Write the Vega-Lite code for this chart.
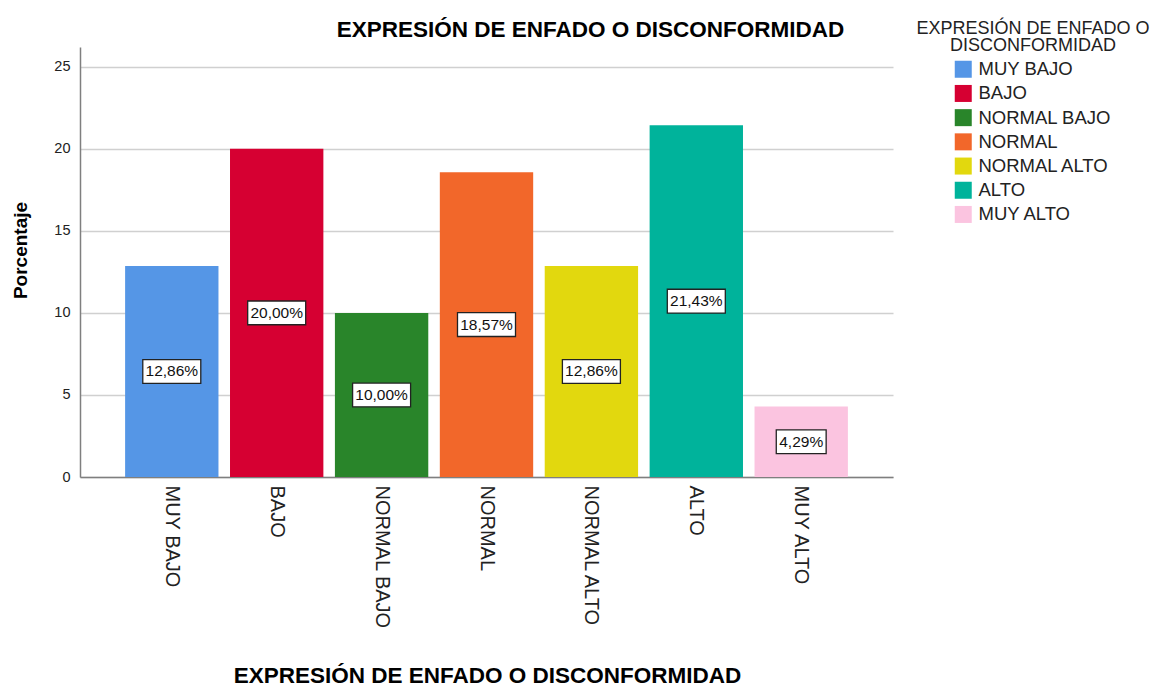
{
  "$schema": "https://vega.github.io/schema/vega-lite/v6.json",
  "width": 813,
  "height": 430,
  "autosize": "none",
  "padding": {"left": 80, "top": 47, "right": 260, "bottom": 209},
  "background": "white",
  "config": {"font": "Liberation Sans", "view": {"stroke": null}},
  "title": {
    "text": "EXPRESIÓN DE ENFADO O DISCONFORMIDAD",
    "fontSize": 22.5,
    "fontWeight": "bold",
    "color": "#000000",
    "anchor": "middle",
    "dx": 104,
    "dy": 50,
    "offset": 11,
    "baseline": "alphabetic"
  },
  "data": {
    "values": [
      {"cat": "MUY BAJO", "pct": 12.86, "label": "12,86%"},
      {"cat": "BAJO", "pct": 20.0, "label": "20,00%"},
      {"cat": "NORMAL BAJO", "pct": 10.0, "label": "10,00%"},
      {"cat": "NORMAL", "pct": 18.57, "label": "18,57%"},
      {"cat": "NORMAL ALTO", "pct": 12.86, "label": "12,86%"},
      {"cat": "ALTO", "pct": 21.43, "label": "21,43%"},
      {"cat": "MUY ALTO", "pct": 4.29, "label": "4,29%"}
    ]
  },
  "encoding": {
    "x": {
      "field": "cat",
      "type": "nominal",
      "sort": ["MUY BAJO", "BAJO", "NORMAL BAJO", "NORMAL", "NORMAL ALTO", "ALTO", "MUY ALTO"],
      "scale": {"paddingInner": 0.11, "paddingOuter": 0.43},
      "axis": {
        "title": "EXPRESIÓN DE ENFADO O DISCONFORMIDAD",
        "titleFontSize": 22.5,
        "titleFontWeight": "bold",
        "titleColor": "#000000",
        "titleX": 407,
        "titleY": 205,
        "titleBaseline": "alphabetic",
        "titleAlign": "center",
        "titleLimit": 800,
        "labelAngle": 90,
        "labelAlign": "left",
        "labelBaseline": "middle",
        "labelFontSize": 20,
        "labelColor": "#222222",
        "labelPadding": 8,
        "ticks": false,
        "domainColor": "#7f7f7f",
        "domainWidth": 1.5,
        "grid": false
      }
    }
  },
  "layer": [
    {
      "mark": {"type": "bar"},
      "encoding": {
        "y": {
          "field": "pct",
          "type": "quantitative",
          "scale": {"domain": [0, 26.2], "nice": false},
          "axis": {
            "title": "Porcentaje",
            "titleFontSize": 19,
            "titleFontWeight": "bold",
            "titleColor": "#000000",
            "titleX": -54,
            "titleY": 203,
            "titleAngle": -90,
            "titleBaseline": "alphabetic",
            "titleAlign": "center",
            "values": [0, 5, 10, 15, 20, 25],
            "labelFontSize": 14.5,
            "labelColor": "#222222",
            "labelPadding": 10,
            "ticks": false,
            "domainColor": "#7f7f7f",
            "domainWidth": 1.5,
            "grid": true,
            "gridColor": "#d0d0d0",
            "gridWidth": 1.5
          }
        },
        "color": {
          "field": "cat",
          "type": "nominal",
          "scale": {
            "domain": ["MUY BAJO", "BAJO", "NORMAL BAJO", "NORMAL", "NORMAL ALTO", "ALTO", "MUY ALTO"],
            "range": ["#5596E6", "#D60032", "#29852A", "#F2672A", "#E2D80E", "#00B39B", "#FBC4E0"]
          },
          "legend": {
            "orient": "none",
            "legendX": 836,
            "legendY": -27,
            "title": ["EXPRESIÓN DE ENFADO O", "DISCONFORMIDAD"],
            "titleFontSize": 18,
            "titleFontWeight": "normal",
            "titleColor": "#222222",
            "titleAnchor": "middle",
            "titleAlign": "center",
            "titleLineHeight": 17,
            "titlePadding": 5,
            "titleLimit": 400,
            "labelFontSize": 18.5,
            "labelColor": "#222222",
            "labelLimit": 300,
            "symbolType": "square",
            "symbolSize": 289,
            "symbolStrokeWidth": 0,
            "rowPadding": 5.2,
            "labelOffset": 6,
            "padding": 0
          }
        }
      }
    },
    {
      "encoding": {
        "y": {
          "field": "pct",
          "type": "quantitative",
          "scale": {"domain": [0, 52.4], "nice": false},
          "axis": null
        }
      },
      "layer": [
        {
          "mark": {
            "type": "point",
            "fill": "white",
            "stroke": "#222222",
            "strokeWidth": 1.3,
            "opacity": 1,
            "fillOpacity": 1,
            "size": 3364
          },
          "encoding": {
            "shape": {
              "condition": {"test": "length(datum.label) < 6", "value": "M-0.86,-0.41L0.86,-0.41L0.86,0.41L-0.86,0.41Z"},
              "value": "M-1,-0.41L1,-0.41L1,0.41L-1,0.41Z"
            }
          }
        },
        {
          "mark": {"type": "text", "fontSize": 15.5, "color": "#111111", "align": "center", "baseline": "middle"},
          "encoding": {"text": {"field": "label"}}
        }
      ]
    }
  ],
  "resolve": {"scale": {"y": "independent"}}
}
